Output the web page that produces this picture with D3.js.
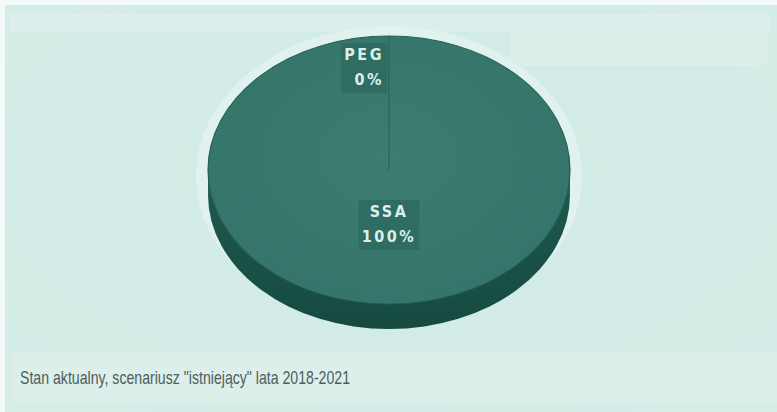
<!DOCTYPE html>
<html><head><meta charset="utf-8">
<script src="https://cdn.jsdelivr.net/npm/d3@7"></script>
<style>html,body{margin:0;padding:0;background:#f4faf9;}svg{display:block;}</style>
</head><body><svg id="c" width="777" height="412"></svg>
<script>
const categories = ["PEG", "SSA"];
const values = [0, 100];
const percentLabels = ["0%", "100%"];
const caption = "Stan aktualny, scenariusz \"istniejący\" lata 2018-2021";

(function(){
const svg = d3.select("#c");
const W = 777, H = 412;
const defs = svg.append("defs");

const bg = defs.append("radialGradient").attr("id","bgG").attr("cx","50%").attr("cy","40%").attr("r","70%");
bg.append("stop").attr("offset","0%").attr("stop-color","#d1ebe5");
bg.append("stop").attr("offset","100%").attr("stop-color","#d5ece7");
svg.append("rect").attr("x",5).attr("y",5).attr("width",W-5).attr("height",H-5).attr("fill","url(#bgG)");
svg.append("rect").attr("x",10).attr("y",14).attr("width",760).attr("height",18).attr("fill","#dcefec").attr("opacity",0.8);
svg.append("rect").attr("x",510).attr("y",22).attr("width",258).attr("height",44).attr("rx",6).attr("fill","#daeeea").attr("opacity",0.9);

const cx = 389, cy = 170, rx = 181, ry = 134, depth = 25;
const color = d3.scaleOrdinal().domain(categories).range(["#2f7064", "#3a7a6e"]);

const pie = d3.pie().sort(null).value(d => d)(values);
const arc = d3.arc().innerRadius(0).outerRadius(rx);

svg.append("ellipse").attr("cx",cx).attr("cy",cy+6).attr("rx",rx+12).attr("ry",ry+16)
  .attr("fill","#e2f2ef").attr("opacity",0.9);

const sideG = defs.append("linearGradient").attr("id","sideG").attr("x1","0").attr("x2","0").attr("y1","0").attr("y2","1");
sideG.append("stop").attr("offset","0%").attr("stop-color","#25645a");
sideG.append("stop").attr("offset","100%").attr("stop-color","#164a40");
svg.append("ellipse").attr("cx",cx).attr("cy",cy+depth).attr("rx",rx).attr("ry",ry).attr("fill","url(#sideG)");
svg.append("rect").attr("x",cx-rx).attr("y",cy).attr("width",2*rx).attr("height",depth).attr("fill","#25645a");

const topG = defs.append("radialGradient").attr("id","topG").attr("cx","50%").attr("cy","45%").attr("r","60%");
topG.append("stop").attr("offset","0%").attr("stop-color","#3c7d71");
topG.append("stop").attr("offset","100%").attr("stop-color","#34746a");
const topGrp = svg.append("g").attr("transform", `translate(${cx},${cy}) scale(1,${ry/rx})`);
topGrp.selectAll("path").data(pie).join("path")
  .attr("d", arc)
  .attr("fill", (d,i) => i === 1 ? "url(#topG)" : color(categories[i]))
  .attr("stroke", "#24604f").attr("stroke-width", 1.2);
topGrp.selectAll("line.sep").data(pie.filter(d => d.value === 0)).join("line")
  .attr("x1",0).attr("y1",0)
  .attr("x2", d => Math.sin(d.startAngle)*rx).attr("y2", d => -Math.cos(d.startAngle)*rx)
  .attr("stroke","#2a6a5d").attr("stroke-width",1.5);

const labelG = svg.append("g");
pie.forEach((d, i) => {
  const mid = (d.startAngle + d.endAngle) / 2;
  const small = d.value === 0;
  const rr = small ? 0.73 : 0.44;
  const lx = small ? cx : cx + Math.sin(mid) * rx * rr;
  const ly = cy - Math.cos(mid) * ry * rr;
  const anchor = small ? "end" : "middle";
  const x = small ? lx - 5 : lx;
  const g = labelG.append("g");
  const t1 = g.append("text").attr("x", x).attr("y", ly - 12).attr("text-anchor", anchor).text(categories[i]);
  const t2 = g.append("text").attr("x", x).attr("y", ly + 13).attr("text-anchor", anchor).text(percentLabels[i]);
  g.selectAll("text").attr("font-family","DejaVu Sans Condensed").attr("font-weight","bold")
    .attr("font-size",16).attr("fill","#dcefea").attr("letter-spacing",2.5);
  const b1 = t1.node().getBBox(), b2 = t2.node().getBBox();
  const x0 = Math.min(b1.x,b2.x)-3, x1 = Math.max(b1.x+b1.width,b2.x+b2.width)+3;
  g.insert("rect","text").attr("x",x0).attr("y",b1.y-2).attr("width",x1-x0).attr("height",b2.y+b2.height-b1.y+6)
    .attr("fill","#2d695e").attr("opacity",0.8);
});

svg.append("rect").attr("x",12).attr("y",352).attr("width",770).attr("height",52).attr("rx",5).attr("fill","#dcefeb");
svg.append("text").attr("x",20).attr("y",384).attr("font-family","Liberation Sans, sans-serif")
  .attr("font-size",19).attr("fill","#4e5e5c")
  .attr("textLength",330).attr("lengthAdjust","spacingAndGlyphs").text(caption);
})();
</script>
</body></html>
